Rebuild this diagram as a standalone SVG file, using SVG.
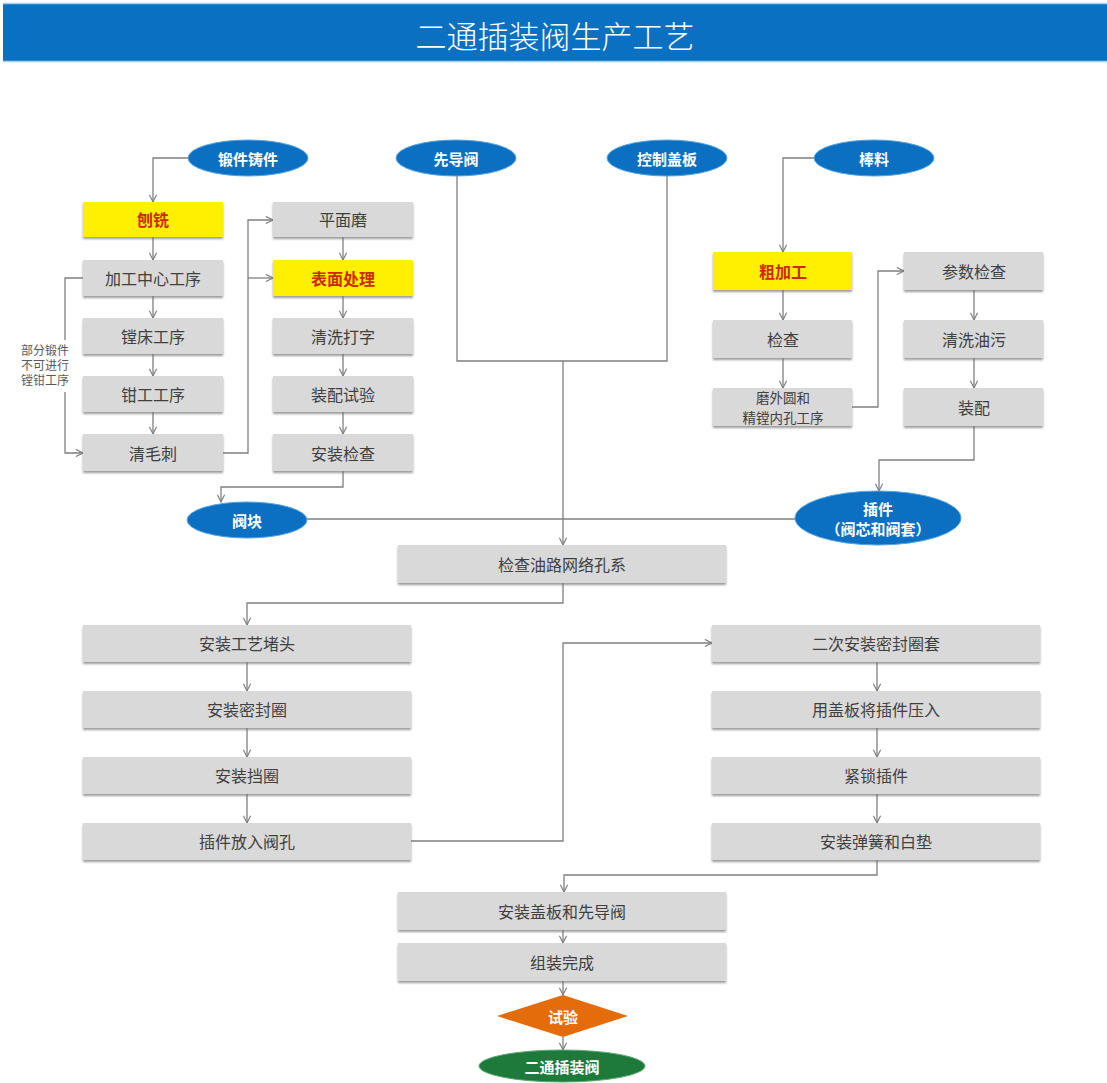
<svg xmlns="http://www.w3.org/2000/svg" width="1107" height="1083" viewBox="0 0 1107 1083">
<defs>
<style>
.box{fill:#d9d9d9;}
.ybox{fill:#ffef00;}
.t{font-family:"Noto Sans CJK SC","Liberation Sans",sans-serif;font-size:16px;fill:#404040;text-anchor:middle;dominant-baseline:central;}
.t2{font-family:"Noto Sans CJK SC","Liberation Sans",sans-serif;font-size:13.5px;fill:#404040;text-anchor:middle;dominant-baseline:central;}
.yt{font-family:"Noto Sans CJK SC","Liberation Sans",sans-serif;font-size:16px;font-weight:bold;fill:#cc2a00;text-anchor:middle;dominant-baseline:central;}
.et{font-family:"Noto Sans CJK SC","Liberation Sans",sans-serif;font-size:15px;font-weight:bold;fill:#ffffff;text-anchor:middle;dominant-baseline:central;}
.note{font-family:"Noto Sans CJK SC","Liberation Sans",sans-serif;font-size:12px;fill:#595959;text-anchor:middle;dominant-baseline:central;}
.c{fill:none;stroke:#7f7f7f;stroke-width:1.3;}
.ell{fill:#0b6fc2;stroke:#5aa5e0;stroke-width:1;}
</style>
<filter id="sh" x="-5%" y="-10%" width="110%" height="130%">
<feDropShadow dx="0" dy="2" stdDeviation="1" flood-color="#707070" flood-opacity="0.7"/>
</filter>
<marker id="arr" viewBox="0 0 10 10" refX="9" refY="5" markerWidth="9" markerHeight="9" markerUnits="userSpaceOnUse" orient="auto">
<path d="M1,1 L9,5 L1,9" fill="none" stroke="#7f7f7f" stroke-width="1.3"/>
</marker>
</defs>
<rect width="1107" height="1083" fill="#ffffff"/>
<g id="header">
<rect x="3" y="3" width="1104" height="59" fill="#0a70c2"/>
<line x1="3" y1="3.5" x2="1107" y2="3.5" stroke="#a9cdee" stroke-width="1.5"/>
<line x1="3" y1="61.5" x2="1107" y2="61.5" stroke="#a9cdee" stroke-width="1.5"/>
<text x="555" y="34" font-family="'Noto Sans CJK SC','Liberation Sans',sans-serif" font-size="31" font-weight="300" fill="#ffffff" text-anchor="middle" dominant-baseline="central">二通插装阀生产工艺</text>
</g>

<g id="connectors">
<path class="c" d="M188,158 H153 V202" marker-end="url(#arr)"/>
<path class="c" d="M153,237 V260" marker-end="url(#arr)"/>
<path class="c" d="M153,296 V318" marker-end="url(#arr)"/>
<path class="c" d="M153,354 V376" marker-end="url(#arr)"/>
<path class="c" d="M153,412 V434" marker-end="url(#arr)"/>
<path class="c" d="M83,278 H65 V340"/>
<path class="c" d="M65,392 V453 H83" marker-end="url(#arr)"/>
<path class="c" d="M223,453 H248 V220 H273" marker-end="url(#arr)"/>
<path class="c" d="M248,278 H273" marker-end="url(#arr)"/>
<path class="c" d="M343,237 V260" marker-end="url(#arr)"/>
<path class="c" d="M343,296 V318" marker-end="url(#arr)"/>
<path class="c" d="M343,354 V376" marker-end="url(#arr)"/>
<path class="c" d="M343,412 V434" marker-end="url(#arr)"/>
<path class="c" d="M343,471 V487 H221 V502" marker-end="url(#arr)"/>
<path class="c" d="M307,519 H796"/>
<path class="c" d="M457,176 V361 H667 V176"/>
<path class="c" d="M563,361 V545" marker-end="url(#arr)"/>
<path class="c" d="M814,158 H783 V252" marker-end="url(#arr)"/>
<path class="c" d="M783,290 V320" marker-end="url(#arr)"/>
<path class="c" d="M783,358 V388" marker-end="url(#arr)"/>
<path class="c" d="M852,407 H878 V271 H904" marker-end="url(#arr)"/>
<path class="c" d="M974,290 V320" marker-end="url(#arr)"/>
<path class="c" d="M974,358 V388" marker-end="url(#arr)"/>
<path class="c" d="M974,426 V460 H879 V491" marker-end="url(#arr)"/>
<path class="c" d="M563,583 V603 H247 V625" marker-end="url(#arr)"/>
<path class="c" d="M247,662 V691" marker-end="url(#arr)"/>
<path class="c" d="M247,728 V757" marker-end="url(#arr)"/>
<path class="c" d="M247,794 V823" marker-end="url(#arr)"/>
<path class="c" d="M411,841 H563 V643 H712" marker-end="url(#arr)"/>
<path class="c" d="M877,662 V691" marker-end="url(#arr)"/>
<path class="c" d="M877,728 V757" marker-end="url(#arr)"/>
<path class="c" d="M877,794 V823" marker-end="url(#arr)"/>
<path class="c" d="M877,860 V875 H564 V892" marker-end="url(#arr)"/>
<path class="c" d="M563,930 V943" marker-end="url(#arr)"/>
<path class="c" d="M563,981 V995" marker-end="url(#arr)"/>
<path class="c" d="M563,1037 V1050" marker-end="url(#arr)"/>
</g>

<g id="n-duanjian"><ellipse class="ell" cx="248" cy="158" rx="60" ry="18"/><text class="et" x="248" y="158">锻件铸件</text></g>
<g id="n-xiandaofa"><ellipse class="ell" cx="456" cy="158" rx="60" ry="18"/><text class="et" x="456" y="158">先导阀</text></g>
<g id="n-kongzhigaiban"><ellipse class="ell" cx="667" cy="158" rx="60" ry="18"/><text class="et" x="667" y="158">控制盖板</text></g>
<g id="n-bangliao"><ellipse class="ell" cx="874" cy="158" rx="60" ry="18"/><text class="et" x="874" y="158">棒料</text></g>

<g id="n-xixi"><rect class="ybox" x="83" y="202" width="140" height="35" filter="url(#sh)"/><text class="yt" x="153" y="219">刨铣</text></g>
<g id="n-jiagongzhongxin"><rect class="box" x="83" y="260" width="140" height="36" filter="url(#sh)"/><text class="t" x="153" y="278">加工中心工序</text></g>
<g id="n-tangchuang"><rect class="box" x="83" y="318" width="140" height="36" filter="url(#sh)"/><text class="t" x="153" y="336">镗床工序</text></g>
<g id="n-qiangong"><rect class="box" x="83" y="376" width="140" height="36" filter="url(#sh)"/><text class="t" x="153" y="394">钳工工序</text></g>
<g id="n-qingmaoci"><rect class="box" x="83" y="434" width="140" height="37" filter="url(#sh)"/><text class="t" x="153" y="453">清毛刺</text></g>
<g id="n-note"><text class="note" x="45" y="349">部分锻件</text><text class="note" x="45" y="364">不可进行</text><text class="note" x="45" y="379">镗钳工序</text></g>

<g id="n-pingmianmo"><rect class="box" x="273" y="202" width="140" height="35" filter="url(#sh)"/><text class="t" x="343" y="219">平面磨</text></g>
<g id="n-biaomian"><rect class="ybox" x="273" y="260" width="140" height="36" filter="url(#sh)"/><text class="yt" x="343" y="278">表面处理</text></g>
<g id="n-qingxidazi"><rect class="box" x="273" y="318" width="140" height="36" filter="url(#sh)"/><text class="t" x="343" y="336">清洗打字</text></g>
<g id="n-zhuangpeishiyan"><rect class="box" x="273" y="376" width="140" height="36" filter="url(#sh)"/><text class="t" x="343" y="394">装配试验</text></g>
<g id="n-anzhuangjiancha"><rect class="box" x="273" y="434" width="140" height="37" filter="url(#sh)"/><text class="t" x="343" y="453">安装检查</text></g>

<g id="n-cujiagong"><rect class="ybox" x="713" y="252" width="139" height="38" filter="url(#sh)"/><text class="yt" x="783" y="271">粗加工</text></g>
<g id="n-jiancha"><rect class="box" x="713" y="320" width="139" height="38" filter="url(#sh)"/><text class="t" x="783" y="339">检查</text></g>
<g id="n-mowaiyuan"><rect class="box" x="713" y="388" width="139" height="38" filter="url(#sh)"/><text class="t2" x="783" y="397">磨外圆和</text><text class="t2" x="783" y="417">精镗内孔工序</text></g>
<g id="n-canshu"><rect class="box" x="904" y="252" width="139" height="38" filter="url(#sh)"/><text class="t" x="974" y="271">参数检查</text></g>
<g id="n-qingxiyouwu"><rect class="box" x="904" y="320" width="139" height="38" filter="url(#sh)"/><text class="t" x="974" y="339">清洗油污</text></g>
<g id="n-zhuangpei"><rect class="box" x="904" y="388" width="139" height="38" filter="url(#sh)"/><text class="t" x="974" y="407">装配</text></g>

<g id="n-fakuai"><ellipse class="ell" cx="247" cy="520" rx="60" ry="18"/><text class="et" x="247" y="520">阀块</text></g>
<g id="n-chajian"><ellipse class="ell" cx="878" cy="518" rx="83" ry="27"/><text class="et" x="878" y="508">插件</text><text class="et" x="878" y="528">（阀芯和阀套）</text></g>

<g id="n-jianchayoulu"><rect class="box" x="398" y="545" width="328" height="38" filter="url(#sh)"/><text class="t" x="562" y="564">检查油路网络孔系</text></g>

<g id="n-anzhuanggongyi"><rect class="box" x="83" y="625" width="328" height="37" filter="url(#sh)"/><text class="t" x="247" y="643">安装工艺堵头</text></g>
<g id="n-anzhuangmifeng"><rect class="box" x="83" y="691" width="328" height="37" filter="url(#sh)"/><text class="t" x="247" y="709">安装密封圈</text></g>
<g id="n-anzhuangdangquan"><rect class="box" x="83" y="757" width="328" height="37" filter="url(#sh)"/><text class="t" x="247" y="775">安装挡圈</text></g>
<g id="n-chajianfangru"><rect class="box" x="83" y="823" width="328" height="37" filter="url(#sh)"/><text class="t" x="247" y="841">插件放入阀孔</text></g>

<g id="n-erci"><rect class="box" x="712" y="625" width="328" height="37" filter="url(#sh)"/><text class="t" x="876" y="643">二次安装密封圈套</text></g>
<g id="n-gaiban"><rect class="box" x="712" y="691" width="328" height="37" filter="url(#sh)"/><text class="t" x="876" y="709">用盖板将插件压入</text></g>
<g id="n-jinsuo"><rect class="box" x="712" y="757" width="328" height="37" filter="url(#sh)"/><text class="t" x="876" y="775">紧锁插件</text></g>
<g id="n-tanhuang"><rect class="box" x="712" y="823" width="328" height="37" filter="url(#sh)"/><text class="t" x="876" y="841">安装弹簧和白垫</text></g>

<g id="n-anzhuanggaiban"><rect class="box" x="398" y="892" width="328" height="38" filter="url(#sh)"/><text class="t" x="562" y="911">安装盖板和先导阀</text></g>
<g id="n-zuzhuang"><rect class="box" x="398" y="943" width="328" height="38" filter="url(#sh)"/><text class="t" x="562" y="962">组装完成</text></g>
<g id="n-shiyan"><polygon points="563,995 628,1016 563,1037 497,1016" fill="#e46c0a"/><text class="et" x="563" y="1016">试验</text></g>
<g id="n-final"><ellipse cx="562" cy="1066" rx="83" ry="16" fill="#1e7a3a" stroke="#5fa874" stroke-width="1"/><text class="et" x="562" y="1066">二通插装阀</text></g>
</svg>
